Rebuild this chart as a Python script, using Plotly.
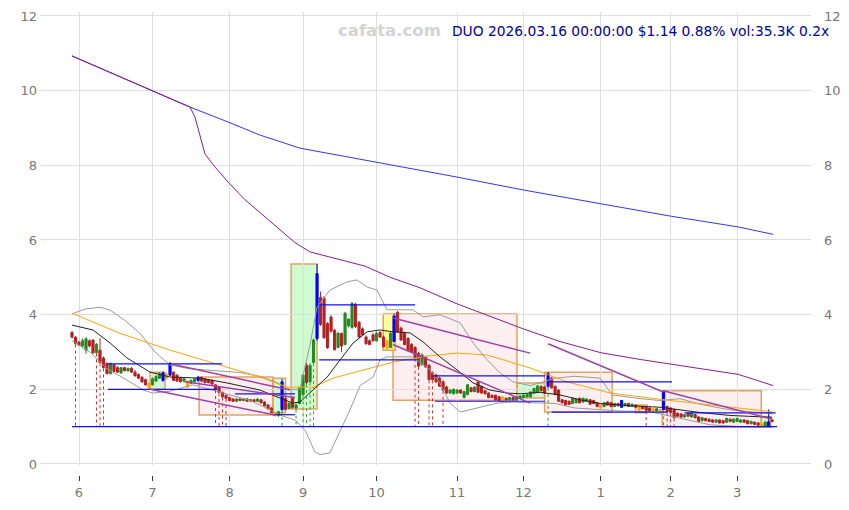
import plotly.graph_objects as go

# ---------------- data ----------------
opens = [3.52,3.40,3.26,3.16,3.05,3.30,3.32,2.98,3.05,2.84,
2.70,2.42,2.66,2.58,2.44,2.58,2.50,2.56,2.46,2.40,
2.32,2.26,2.16,2.12,2.22,2.30,2.24,2.40,2.38,2.46,
2.38,2.30,2.22,2.22,2.16,2.20,2.24,2.32,2.28,2.26,
2.24,2.12,2.06,1.92,1.84,1.78,1.74,1.68,1.74,1.70,
1.74,1.68,1.72,1.68,1.72,1.66,1.58,1.50,1.36,1.30,
1.46,1.76,1.48,1.76,1.50,1.62,1.86,2.64,2.20,2.72,
3.36,4.46,4.44,3.76,3.94,3.58,3.12,3.50,3.20,3.70,
3.66,4.28,3.80,3.62,3.40,3.30,3.46,3.30,3.52,3.40,
3.30,3.12,3.28,4.06,3.64,3.50,3.36,3.20,3.12,2.96,
2.66,2.86,2.64,2.44,2.38,2.30,2.20,2.06,1.90,1.88,
1.90,1.98,1.78,1.86,2.04,1.94,2.20,2.08,1.96,1.90,
1.84,1.84,1.80,1.80,1.76,1.72,1.78,1.72,1.76,1.78,
1.80,1.80,1.90,1.92,2.08,2.06,2.08,2.30,2.08,1.98,
1.72,1.70,1.68,1.62,1.64,1.76,1.66,1.68,1.72,1.70,
1.64,1.60,1.54,1.66,1.64,1.54,1.62,1.52,1.56,1.62,
1.54,1.58,1.56,1.54,1.52,1.50,1.48,1.42,1.46,1.46,
1.54,1.50,1.46,1.36,1.34,1.26,1.36,1.26,1.32,1.26,
1.16,1.22,1.20,1.18,1.12,1.18,1.16,1.12,1.20,1.12,
1.14,1.12,1.18,1.16,1.08,1.12,1.10,1.08,1.02,1.02,
1.18]

highs = [3.56,3.42,3.30,3.36,3.40,3.34,3.34,3.24,3.37,2.88,
2.72,2.72,2.68,2.62,2.60,2.60,2.58,2.60,2.52,2.42,
2.36,2.28,2.18,2.32,2.38,2.46,2.48,2.44,2.72,2.48,
2.40,2.34,2.30,2.24,2.26,2.30,2.36,2.34,2.30,2.28,
2.26,2.14,2.08,1.94,1.86,1.80,1.76,1.76,1.76,1.76,
1.76,1.74,1.74,1.76,1.74,1.68,1.60,1.52,1.40,1.42,
2.28,1.80,1.66,1.78,1.62,2.06,2.40,2.70,2.70,3.36,
5.36,4.62,4.50,3.80,3.98,3.62,3.54,3.52,4.08,3.90,
4.34,4.32,3.82,3.66,3.44,3.34,3.50,3.54,3.56,3.44,
3.34,3.54,4.02,4.10,3.68,3.54,3.40,3.24,3.16,3.00,
2.96,2.90,2.68,2.48,2.42,2.34,2.24,2.10,2.00,2.02,
2.00,2.00,1.96,2.14,2.06,2.08,2.22,2.10,1.98,1.92,
1.86,1.86,1.82,1.82,1.78,1.80,1.80,1.82,1.84,1.86,
1.88,1.95,2.04,2.12,2.10,2.08,2.46,2.34,2.10,2.00,
1.74,1.72,1.70,1.78,1.76,1.78,1.78,1.76,1.74,1.72,
1.66,1.62,1.66,1.68,1.66,1.64,1.64,1.72,1.64,1.64,
1.62,1.60,1.58,1.56,1.54,1.52,1.50,1.50,1.48,1.96,
1.56,1.52,1.48,1.38,1.36,1.34,1.38,1.38,1.34,1.28,
1.26,1.24,1.22,1.20,1.20,1.20,1.18,1.24,1.22,1.22,
1.24,1.20,1.20,1.18,1.16,1.14,1.12,1.10,1.14,1.46,
1.20]

lows = [3.36,3.20,3.16,3.10,2.95,3.12,2.95,2.96,2.70,2.56,
2.40,2.40,2.46,2.44,2.42,2.48,2.46,2.44,2.34,2.28,
2.18,2.10,2.00,2.10,2.20,2.28,2.20,2.26,2.36,2.22,
2.20,2.18,2.18,2.04,2.14,2.18,2.20,2.20,2.16,2.16,
2.12,1.98,1.90,1.78,1.74,1.68,1.66,1.66,1.68,1.68,
1.66,1.66,1.66,1.66,1.62,1.54,1.46,1.36,1.26,1.26,
1.42,1.44,1.46,1.48,1.46,1.60,1.84,2.14,2.18,2.70,
3.30,3.70,3.36,3.08,3.52,3.04,3.10,3.00,3.18,3.66,
3.62,3.64,3.38,3.44,3.20,3.18,3.28,3.28,3.38,3.12,
3.08,3.10,3.26,3.52,3.30,3.18,3.02,2.98,2.82,2.60,
2.64,2.58,2.24,2.24,2.18,2.06,1.96,1.88,1.88,1.86,
1.88,1.88,1.76,1.84,1.92,1.92,1.90,1.88,1.86,1.76,
1.76,1.70,1.68,1.64,1.70,1.70,1.70,1.70,1.74,1.76,
1.78,1.78,1.88,1.90,1.94,1.88,2.04,2.02,1.84,1.66,
1.62,1.56,1.58,1.60,1.62,1.62,1.64,1.66,1.58,1.60,
1.52,1.48,1.52,1.56,1.52,1.52,1.54,1.50,1.54,1.52,
1.52,1.50,1.42,1.46,1.42,1.40,1.38,1.40,1.38,1.44,
1.38,1.36,1.22,1.26,1.24,1.24,1.26,1.24,1.22,1.12,
1.14,1.14,1.12,1.10,1.10,1.08,1.08,1.10,1.12,1.10,
1.12,1.10,1.10,1.06,1.06,1.04,1.02,1.00,1.00,1.00,
1.12]

closes = [3.40,3.22,3.18,3.30,3.35,3.16,2.98,3.20,2.72,2.58,
2.42,2.68,2.48,2.46,2.58,2.50,2.56,2.46,2.36,2.30,
2.20,2.12,2.04,2.28,2.34,2.42,2.44,2.30,2.70,2.24,
2.22,2.20,2.28,2.06,2.24,2.28,2.32,2.22,2.18,2.18,
2.14,2.00,1.92,1.80,1.76,1.70,1.68,1.74,1.70,1.74,
1.68,1.72,1.68,1.74,1.64,1.56,1.48,1.38,1.30,1.40,
2.20,1.46,1.62,1.52,1.58,2.04,2.38,2.18,2.64,3.32,
5.10,3.74,3.38,3.12,3.56,3.06,3.50,3.16,4.04,3.88,
4.30,3.68,3.40,3.46,3.22,3.20,3.30,3.50,3.40,3.14,
3.10,3.50,3.96,3.54,3.32,3.20,3.04,3.00,2.84,2.62,
2.92,2.60,2.26,2.26,2.20,2.08,1.98,1.90,1.98,2.00,
1.98,1.90,1.94,2.12,1.94,2.06,1.92,1.90,1.88,1.78,
1.78,1.72,1.70,1.66,1.72,1.78,1.72,1.80,1.82,1.84,
1.86,1.93,2.02,2.09,1.96,1.90,2.42,2.04,1.86,1.68,
1.64,1.58,1.60,1.76,1.74,1.64,1.76,1.74,1.60,1.62,
1.54,1.50,1.64,1.58,1.54,1.62,1.56,1.70,1.62,1.54,
1.60,1.52,1.44,1.48,1.44,1.42,1.40,1.48,1.40,1.94,
1.40,1.38,1.24,1.28,1.26,1.32,1.28,1.36,1.24,1.14,
1.24,1.16,1.14,1.12,1.18,1.10,1.10,1.22,1.14,1.20,
1.22,1.18,1.12,1.08,1.14,1.06,1.04,1.02,1.12,1.13,
1.14]

n = len(closes)
if not (len(opens) == len(highs) == len(lows) == n):
    raise SystemExit(f"length mismatch {len(opens)} {len(highs)} {len(lows)} {n}")

blue_idx = [26, 28, 36, 60, 70, 92, 136, 157, 169, 199]
orange_idx = [22, 27, 33, 58, 90, 123, 151, 162, 166, 168, 197]

month_pos = [2, 23, 45, 66, 87, 110, 129, 151, 171, 190]
month_labels = ["6", "7", "8", "9", "10", "11", "12", "1", "2", "3"]

# moving averages / bands: (position, value) anchor points
ma_long_x = [0, 22.3, 33.7, 44.6, 53.7, 65.1, 86.3, 109.7, 128.9, 151.1, 170.9, 190.3, 200.3]
ma_long_y = [10.93, 10.02, 9.56, 9.16, 8.81, 8.46, 8.10, 7.69, 7.34, 6.96, 6.64, 6.35, 6.15]

ma_mid_x = [0, 22.3, 33.7, 35.1, 36.6, 38, 40.9, 44.6, 49.4, 54.3, 59.4, 63.7, 68, 76.6, 83.7,
            90.9, 99.4, 109.7, 122.3, 128.9, 139.4, 151.1, 162.3, 170.9, 179.4, 190.3, 200.3]
ma_mid_y = [10.93, 10.02, 9.56, 9.30, 8.75, 8.30, 7.95, 7.55, 7.08, 6.68, 6.27, 5.93, 5.68, 5.48, 5.30,
            5.00, 4.72, 4.30, 3.85, 3.62, 3.28, 2.98, 2.80, 2.68, 2.57, 2.40, 2.10]

ma20_x = [0, 6, 10.9, 15.7, 22.3, 28, 36.6, 44.3, 53.7, 59.4, 63.1, 65.1, 68.9, 72.9, 76.6, 80.3,
          84.3, 88, 91.7, 96.6, 100.3, 105.1, 110, 114.6, 119.4, 124.3, 128, 133.7, 139.4, 145.1,
          150.9, 159.4, 168, 173.7, 179.4, 188, 200]
ma20_y = [3.72, 3.59, 3.24, 2.84, 2.46, 2.33, 2.30, 2.17, 1.98, 1.77, 1.63, 1.66, 1.98, 2.33, 2.79, 3.24,
          3.54, 3.59, 3.54, 3.51, 3.27, 2.87, 2.52, 2.17, 1.98, 1.90, 1.88, 1.92, 1.85, 1.72,
          1.62, 1.56, 1.52, 1.45, 1.38, 1.30, 1.25]

ma60_x = [0, 13.7, 28, 42.3, 53.7, 61.4, 68.9, 74.6, 83.1, 91.7, 101.4, 110, 118.6, 126, 130.9,
          141.4, 153.7, 170, 185.1, 200]
ma60_y = [4.04, 3.50, 3.05, 2.65, 2.33, 2.06, 2.06, 2.30, 2.52, 2.73, 2.89, 2.97, 2.92, 2.70, 2.57,
          2.20, 1.90, 1.71, 1.55, 1.40]

bb_up_x = [0, 3.7, 8, 10.9, 15.1, 19.4, 23.7, 28, 33.7, 40.9, 48, 53.7, 58, 62.3, 65.1, 68, 70,
           73.7, 78.6, 81.4, 84.3, 87.1, 90, 97.4, 100.3, 105.1, 110.9, 114.6, 118.6, 122.3, 126,
           130.9, 138, 143.7, 150.9, 154.3, 162.3, 168, 173.7, 179.4, 188, 200]
bb_up_y = [4.02, 4.15, 4.20, 4.12, 3.85, 3.50, 3.00, 2.65, 2.55, 2.50, 2.45, 2.35, 2.20, 2.00, 2.00, 3.20, 4.20,
           4.66, 4.88, 4.93, 4.74, 4.66, 4.13, 4.13, 3.94, 4.00, 3.78, 3.24, 2.79, 2.44, 2.20,
           2.10, 2.30, 2.35, 2.30, 1.85, 1.75, 1.70, 1.75, 1.60, 1.45, 1.35]

bb_lo_x = [0, 5.1, 10, 15.7, 20.3, 23.1, 28, 34.6, 39.4, 45.1, 50.9, 53.7, 59.4, 63.7, 66.6, 69.4,
           70.9, 73.7, 76.6, 79.4, 82.3, 86, 88, 90, 97.4, 102.3, 105.1, 108, 110.9, 116.6, 121.4,
           126, 130.9, 138, 143.7, 150.9, 156.6, 165.1, 173.7, 182.3, 190.9, 200]
bb_lo_y = [3.30, 3.00, 2.55, 2.25, 1.98, 1.90, 1.95, 2.12, 2.00, 1.85, 1.70, 1.58, 1.31, 1.18, 0.90, 0.32,
           0.25, 0.30, 0.90, 1.45, 2.10, 2.33, 2.79, 2.87, 2.87, 2.52, 2.17, 1.63, 1.39, 1.53, 1.63,
           1.66, 1.65, 1.62, 1.50, 1.45, 1.42, 1.40, 1.22, 1.05, 1.00, 0.98]

# trend channel lines: (x0, y0, x1, y1)
trend_lines = [
    (28.3, 2.68, 62.3, 1.98),
    (32.3, 2.20, 63.7, 1.78),
    (22.3, 2.00, 58.0, 1.31),
    (91.7, 3.91, 130.9, 2.97),
    (91.7, 3.20, 130.9, 1.63),
    (136.0, 3.22, 168.9, 1.93),
    (168.9, 1.96, 200.0, 1.20),
]

# horizontal support / resistance lines: (x0, x1, level)
levels = [
    (10.3, 42.9, 2.68), (10.3, 41.4, 2.00), (46.6, 63.7, 1.88), (57.4, 63.7, 1.32),
    (70.6, 98.0, 4.26), (70.6, 98.6, 2.79), (103.1, 135.1, 2.36), (103.7, 135.1, 1.68),
    (135.7, 171.4, 2.20), (137.0, 170.0, 1.39), (175.0, 201.0, 1.37), (0.0, 201.4, 1.00),
]

# zones: (x0, x1, y0, y1, kind)
zones = [
    (22.3, 26.6, 2.00, 2.46, "up"),
    (36.3, 57.4, 1.31, 2.33, "down"),
    (57.4, 61.0, 1.37, 2.30, "up"),
    (62.6, 70.0, 1.47, 5.36, "up"),
    (91.7, 127.1, 1.71, 4.02, "down"),
    (88.9, 92.3, 3.05, 4.02, "flat"),
    (127.1, 135.0, 1.77, 2.17, "up"),
    (135.0, 154.3, 1.39, 2.46, "down"),
    (161.0, 164.3, 1.37, 1.58, "down"),
    (168.6, 196.9, 0.99, 1.96, "down"),
    (196.9, 199.6, 1.00, 1.27, "up"),
]

red_dot_idx = [1, 7, 8, 9, 41, 42, 43, 44, 98, 99, 102, 103, 106, 164, 170, 171, 172]
green_dot_idx = [60, 64, 66, 67, 68, 69, 136, 169]
dot_floor = 1.0

title_text = "DUO 2026.03.16 00:00:00 $1.14 0.88% vol:35.3K 0.2x"
watermark = "cafata.com"

# ---------------- figure ----------------
FONT = "DejaVu Sans"
RED = "#B22222"
GREEN = "#228B22"
fig = go.Figure()

zone_fill = {"up": "rgba(150,245,150,0.45)", "down": "rgba(250,210,210,0.35)", "flat": "rgba(255,255,80,0.6)"}
shapes = []
for x0, x1, y0, y1, kind in zones:
    shapes.append(dict(type="rect", xref="x", yref="y", x0=x0, x1=x1, y0=y0, y1=y1,
                       fillcolor=zone_fill[kind], line=dict(color="#E8A060", width=1.5), layer="below"))

def add_line(xs, ys, color, width=1, dash=None):
    fig.add_trace(go.Scatter(x=xs, y=ys, mode="lines", line=dict(color=color, width=width, dash=dash),
                             hoverinfo="skip", showlegend=False))

add_line(bb_up_x, bb_up_y, "#9A9A9A", 1)
add_line(bb_lo_x, bb_lo_y, "#9A9A9A", 1)
add_line(ma60_x, ma60_y, "#FFA500", 1)
add_line(ma20_x, ma20_y, "#222222", 1)
add_line(ma_long_x, ma_long_y, "#3333FF", 1)
add_line(ma_mid_x, ma_mid_y, "#8B1A8B", 1)

rx, ry = [], []
for i in red_dot_idx:
    rx += [i, i, None]
    ry += [lows[i], dot_floor, None]
add_line(rx, ry, "#D03030", 1, "dot")
gx, gy = [], []
for i in green_dot_idx:
    gx += [i, i, None]
    gy += [lows[i], dot_floor, None]
add_line(gx, gy, "#30A030", 1, "dot")

lx, ly = [], []
for x0, x1, v in levels:
    lx += [x0, x1, None]
    ly += [v, v, None]
add_line(lx, ly, "#1010F0", 1.2)

tx, ty = [], []
for x0, y0, x1, y1 in trend_lines:
    tx += [x0, x1, None]
    ty += [y0, y1, None]
add_line(tx, ty, "#A040A8", 1.5)

def candles(idx, inc, dec):
    fig.add_trace(go.Candlestick(
        x=idx, open=[opens[i] for i in idx], high=[highs[i] for i in idx],
        low=[lows[i] for i in idx], close=[closes[i] for i in idx],
        increasing=dict(line=dict(color=inc, width=1), fillcolor=inc),
        decreasing=dict(line=dict(color=dec, width=1), fillcolor=dec),
        whiskerwidth=0, hoverinfo="skip", showlegend=False))

special = set(blue_idx) | set(orange_idx)
normal_idx = [i for i in range(n) if i not in special]
candles(normal_idx, GREEN, RED)
candles(orange_idx, "#FFA500", "#FFA500")
candles(blue_idx, "#0000FF", "#0000FF")

fig.add_trace(go.Scatter(x=[0], y=[0], yaxis="y2", mode="markers", marker=dict(opacity=0),
                         hoverinfo="skip", showlegend=False))
fig.add_trace(go.Scatter(x=[0], y=[0], xaxis="x2", mode="markers", marker=dict(opacity=0),
                         hoverinfo="skip", showlegend=False))

xr = [-9.14, 211.1]
yr = [-0.027, 12.107]
ydom = [0.0216, 1]
ytv = [0, 2, 4, 6, 8, 10, 12]
tickfont = dict(family=FONT, size=13, color="#777777")

# the page body adds an 8px offset, so margins are shifted by 8px
fig.update_layout(
    width=849, height=510,
    margin=dict(l=32, r=46, t=4, b=43, autoexpand=False),
    paper_bgcolor="white", plot_bgcolor="white",
    font=dict(family=FONT, size=13, color="#777777"),
    showlegend=False,
    boxgap=0.12,
    shapes=shapes,
    xaxis=dict(range=xr, tickvals=month_pos, ticktext=month_labels, showticklabels=False,
               showgrid=True, gridcolor="#DDDDDD", gridwidth=1, zeroline=False, showline=False,
               ticks="", rangeslider=dict(visible=False), automargin=False),
    xaxis2=dict(range=xr, overlaying="x", anchor="free", position=0, tickvals=month_pos,
                ticktext=month_labels, showgrid=False, zeroline=False, showline=False,
                ticks="outside", ticklen=5, tickcolor="#333333", tickwidth=1,
                tickfont=tickfont, automargin=False),
    yaxis=dict(range=yr, domain=ydom, tickvals=ytv, showgrid=True, gridcolor="#DDDDDD", gridwidth=1,
               zeroline=False, showline=False, ticks="", ticklabelstandoff=2,
               tickfont=tickfont, automargin=False),
    yaxis2=dict(range=yr, domain=ydom, overlaying="y", side="right", tickvals=ytv, showgrid=False,
                zeroline=False, showline=False, ticks="", ticklabelstandoff=12,
                tickfont=tickfont, automargin=False),
    annotations=[
        dict(text=watermark, xref="paper", yref="paper", x=0.4527, y=0.959, xanchor="center",
             yanchor="middle", showarrow=False,
             font=dict(family=FONT, size=16.5, color="#D3D3D3", weight="bold")),
        dict(text=title_text, xref="paper", yref="paper", x=1.026, y=0.959, xanchor="right",
             yanchor="middle", showarrow=False,
             font=dict(family=FONT, size=13.8, color="#0000A0")),
    ],
)

fig.write_html("out.html")
